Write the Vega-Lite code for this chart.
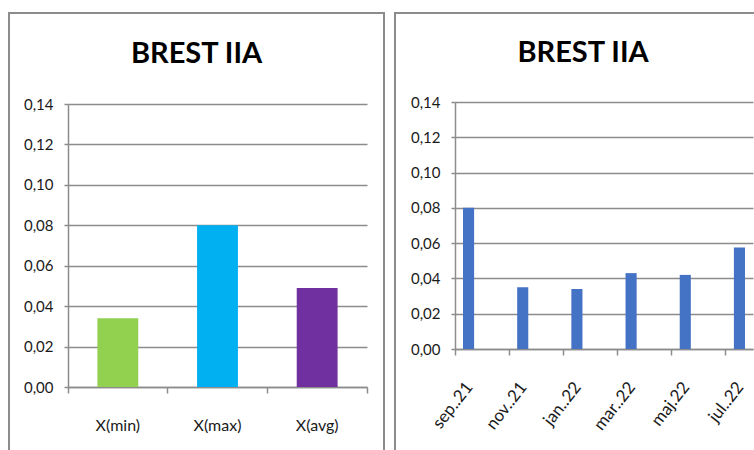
{
  "$schema": "https://vega.github.io/schema/vega-lite/v6.json",
  "background": "white",
  "padding": {"left": 8, "top": 12, "right": 0, "bottom": 0},
  "spacing": 9,
  "hconcat": [
    {
      "width": 375,
      "height": 445,
      "title": {"text": "BREST IIA", "frame": "group", "anchor": "middle", "offset": -56},
      "data": {
        "values": [
          {"stat": "X(min)", "value": 0.034},
          {"stat": "X(max)", "value": 0.080},
          {"stat": "X(avg)", "value": 0.049}
        ]
      },
      "mark": {"type": "bar", "width": {"band": 0.41}},
      "encoding": {
        "x": {
          "field": "stat", "type": "nominal", "sort": null,
          "scale": {"range": [59, 358], "paddingInner": 0, "paddingOuter": 0},
          "axis": {"title": null, "offset": -71, "labelAngle": 0, "bandPosition": 1, "tickExtra": true, "labelOffset": 0, "tickSize": 6, "labelPadding": 24, "labelFontSize": 16, "grid": false}
        },
        "y": {
          "field": "value", "type": "quantitative",
          "scale": {"domain": [0, 0.14], "range": [374, 91], "nice": false},
          "axis": {"title": null, "offset": -59, "values": [0, 0.02, 0.04, 0.06, 0.08, 0.1, 0.12, 0.14], "labelExpr": "replace(format(datum.value, '.2f'), '.', ',')", "tickSize": 4, "labelPadding": 11, "grid": true}
        },
        "color": {
          "field": "stat", "type": "nominal",
          "scale": {"domain": ["X(min)", "X(max)", "X(avg)"], "range": ["#92D050", "#00B0F0", "#7030A0"]},
          "legend": null
        }
      }
    },
    {
      "width": 376,
      "height": 445,
      "title": {"text": "BREST IIA", "frame": "group", "anchor": "middle", "offset": -55},
      "data": {
        "values": [
          {"month": "sep..21", "value": 0.080},
          {"month": "nov..21", "value": 0.035},
          {"month": "jan..22", "value": 0.034},
          {"month": "mar..22", "value": 0.043},
          {"month": "maj.22", "value": 0.042},
          {"month": "jul..22", "value": 0.0575}
        ]
      },
      "mark": {"type": "bar", "width": {"band": 0.41}, "color": "#4472C4"},
      "encoding": {
        "x": {
          "field": "month", "type": "ordinal",
          "scale": {
            "domain": ["sep..21", "okt..21", "nov..21", "dec..21", "jan..22", "feb..22", "mar..22", "apr..22", "maj.22", "jun..22", "jul..22"],
            "range": [60, 358], "paddingInner": 0, "paddingOuter": 0
          },
          "axis": {
            "title": null, "offset": -109,
            "values": ["sep..21", "nov..21", "jan..22", "mar..22", "maj.22", "jul..22"],
            "bandPosition": 0, "labelOffset": 1, "labelAngle": -52, "labelAlign": "right", "labelBaseline": "middle",
            "tickSize": 6, "labelPadding": 29, "labelFontSize": 17, "grid": false
          }
        },
        "y": {
          "field": "value", "type": "quantitative",
          "scale": {"domain": [0, 0.14], "range": [336, 89], "nice": false},
          "axis": {"title": null, "offset": -60, "values": [0, 0.02, 0.04, 0.06, 0.08, 0.1, 0.12, 0.14], "labelExpr": "replace(format(datum.value, '.2f'), '.', ',')", "tickSize": 4, "labelPadding": 11, "grid": true}
        }
      }
    }
  ],
  "config": {
    "view": {"stroke": "#8c8c8c", "strokeWidth": 2},
    "axis": {
      "domainColor": "#8c8c8c", "domainWidth": 1.5,
      "tickColor": "#8c8c8c", "tickWidth": 1.5,
      "gridColor": "#8c8c8c", "gridWidth": 1.5,
      "labelFont": "Lato", "labelFontSize": 15, "labelColor": "#1a1a1a"
    },
    "title": {"font": "Lato", "fontSize": 29, "fontWeight": "bold", "color": "#000000"}
  }
}
